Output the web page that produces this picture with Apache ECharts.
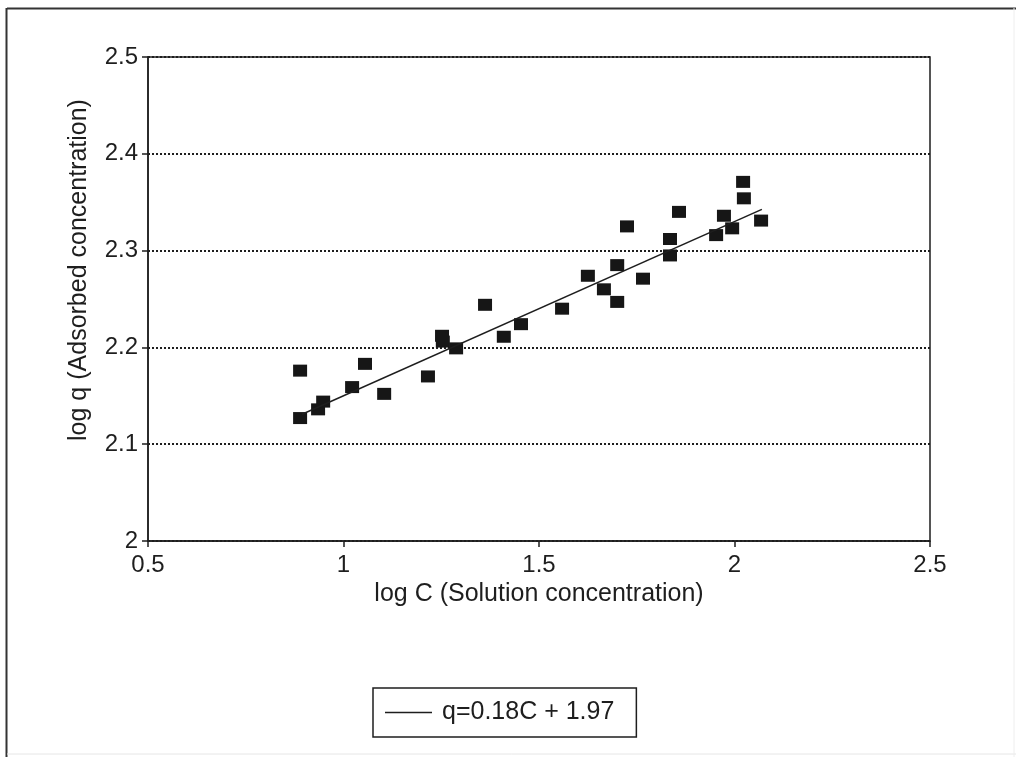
<!DOCTYPE html>
<html>
<head>
<meta charset="utf-8">
<title>log q vs log C</title>
<script src="https://cdn.jsdelivr.net/npm/echarts@6/dist/echarts.min.js"></script>
<style>
  html, body { margin: 0; padding: 0; background: #ffffff; }
  #chart { width: 1016px; height: 757px; }
</style>
</head>
<body>
<div id="chart"></div>
<script>
// Measured points: log of solution concentration vs log of adsorbed concentration
const logC = [0.889, 0.889, 0.935, 0.948, 1.022, 1.055, 1.104, 1.216, 1.252, 1.254,
              1.288, 1.362, 1.410, 1.454, 1.559, 1.625, 1.666, 1.700, 1.700, 1.725,
              1.766, 1.835, 1.835, 1.858, 1.953, 1.973, 1.994, 2.022, 2.024, 2.068];
const logQ = [2.176, 2.127, 2.136, 2.144, 2.159, 2.183, 2.152, 2.170, 2.212, 2.206,
              2.199, 2.244, 2.211, 2.224, 2.240, 2.274, 2.260, 2.285, 2.247, 2.325,
              2.271, 2.312, 2.295, 2.340, 2.316, 2.336, 2.323, 2.371, 2.354, 2.331];

// Linear fit q = 0.18C + 1.97 over the measured range
const fitName = 'q=0.18C + 1.97';
const fitSlope = 0.18;
const fitIntercept = 1.97;
const fitRange = [0.894, 2.07];

const xTicks = [0.5, 1, 1.5, 2, 2.5];
const yTicks = [2, 2.1, 2.2, 2.3, 2.4, 2.5];

const points = logC.map((c, i) => [c, logQ[i]]);
const fitLine = fitRange.map(c => [c, fitSlope * c + fitIntercept]);

const ink = '#1e1e1e';
const font = '"Liberation Sans", Arial, Helvetica, sans-serif';

const chart = echarts.init(document.getElementById('chart'), null, { renderer: 'canvas' });
chart.setOption({
  backgroundColor: '#ffffff',
  animation: false,
  textStyle: { fontFamily: font, color: ink },
  graphic: [
    { type: 'line', shape: { x1: 7, y1: 8.5, x2: 1016, y2: 8.5 }, style: { stroke: '#333', lineWidth: 2 } },
    { type: 'line', shape: { x1: 6.5, y1: 8, x2: 6.5, y2: 757 }, style: { stroke: '#333', lineWidth: 2 } },
    { type: 'line', shape: { x1: 7, y1: 754, x2: 1016, y2: 754 }, style: { stroke: '#e6e6e6', lineWidth: 1 } },
    { type: 'line', shape: { x1: 1014, y1: 8, x2: 1014, y2: 757 }, style: { stroke: '#eeeeee', lineWidth: 1 } }
  ],
  grid: {
    left: 148, right: 86, top: 57, bottom: 216,
    show: true, borderColor: ink, borderWidth: 1.5, backgroundColor: 'transparent'
  },
  legend: {
    data: [{ name: fitName, icon: 'rect' }],
    left: 373, top: 688,
    orient: 'horizontal',
    itemWidth: 47, itemHeight: 1.5,
    padding: [12, 22, 12, 12],
    borderColor: ink, borderWidth: 1.5,
    itemStyle: { color: ink, borderWidth: 0 },
    textStyle: { fontFamily: font, fontSize: 25, color: ink, padding: [0, 0, 0, 5] }
  },
  xAxis: {
    type: 'value',
    min: 0.5, max: 2.5, interval: 0.5,
    name: 'log C (Solution concentration)',
    nameLocation: 'middle', nameGap: 32,
    nameTextStyle: { fontFamily: font, fontSize: 25, color: ink },
    axisLine: { show: true, lineStyle: { color: ink, width: 1.5 } },
    axisTick: { show: true, inside: false, length: 6, lineStyle: { color: ink, width: 1.5 } },
    axisLabel: {
      margin: 12, fontFamily: font, fontSize: 24, color: ink,
      formatter: v => String(xTicks.find(t => Math.abs(t - v) < 1e-9) ?? v)
    },
    splitLine: { show: false }
  },
  yAxis: {
    type: 'value',
    min: 2, max: 2.5, interval: 0.1,
    name: 'log q (Adsorbed concentration)',
    nameLocation: 'middle', nameRotate: 90, nameGap: 56,
    nameTextStyle: { fontFamily: font, fontSize: 25, color: ink, padding: [0, 0, 0, 58] },
    axisLine: { show: true, lineStyle: { color: ink, width: 1.5 } },
    axisTick: { show: true, inside: false, length: 6, lineStyle: { color: ink, width: 1.5 } },
    axisLabel: {
      margin: 10, fontFamily: font, fontSize: 24, color: ink,
      formatter: v => String(yTicks.find(t => Math.abs(t - v) < 1e-9) ?? v)
    },
    splitLine: { show: true, lineStyle: { color: ink, width: 2, type: [2, 2] } }
  },
  series: [
    {
      name: 'measured',
      type: 'scatter',
      data: points,
      symbol: 'rect',
      symbolSize: [14, 12],
      itemStyle: { color: '#161616', opacity: 1 },
      z: 3
    },
    {
      name: fitName,
      type: 'line',
      data: fitLine,
      symbol: 'none',
      showSymbol: false,
      lineStyle: { color: ink, width: 1.5 },
      itemStyle: { color: ink },
      z: 4
    }
  ]
});
</script>
</body>
</html>
